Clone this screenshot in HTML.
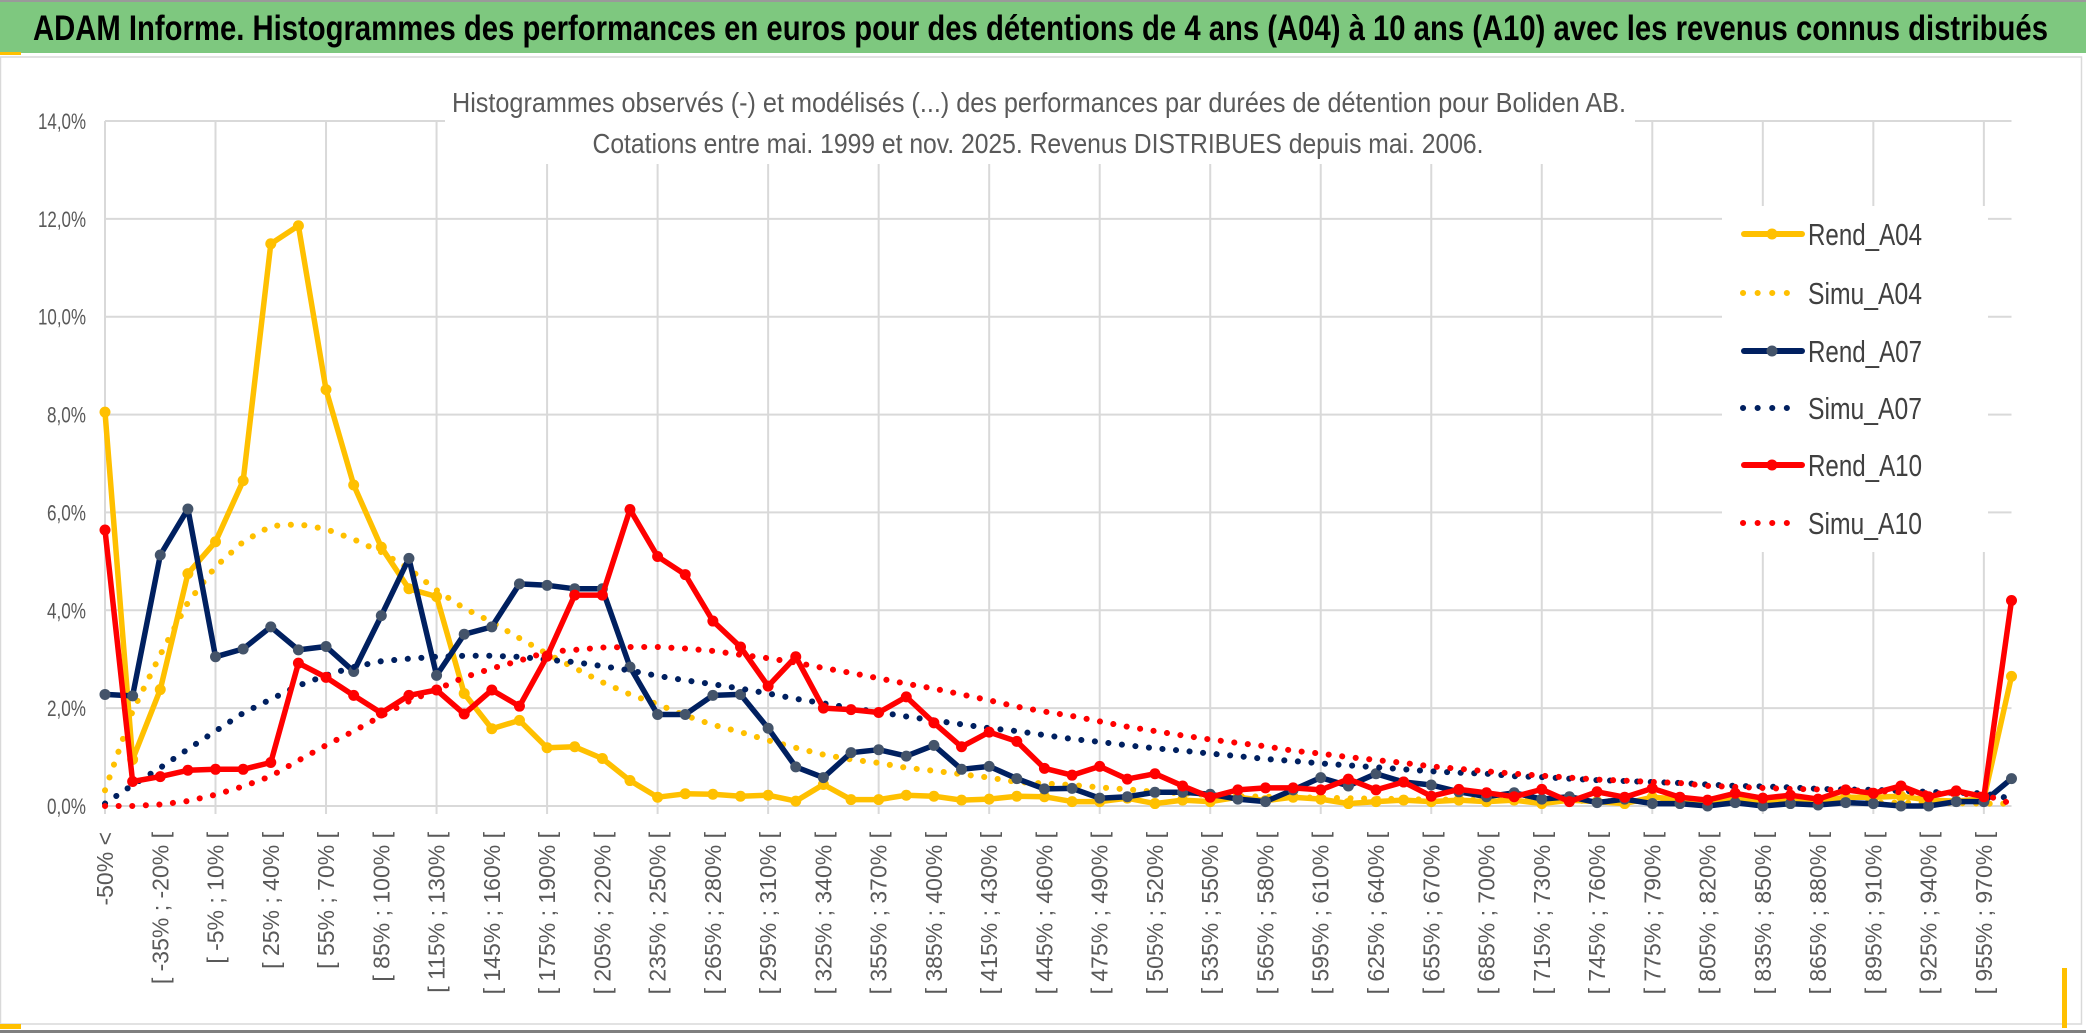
<!DOCTYPE html>
<html><head><meta charset="utf-8"><style>
html,body{margin:0;padding:0;background:#fff;}
svg{display:block;font-family:"Liberation Sans",sans-serif;}
</style></head><body>
<svg id="chart" width="2086" height="1033" viewBox="0 0 2086 1033" xmlns="http://www.w3.org/2000/svg">
<rect x="0" y="0" width="2086" height="1033" fill="#fff"/>
<rect x="0.5" y="57" width="2081" height="967" fill="none" stroke="#d9d9d9" stroke-width="1.5"/>
<rect x="0" y="1030" width="2086" height="3" fill="#7f7f7f"/>
<g>
<rect x="0" y="0" width="2086" height="2" fill="#9a9a9a"/>
<rect x="0" y="2" width="2086" height="51" fill="#7ec87f"/>
<rect x="0" y="52" width="21" height="3" fill="#ffc000"/>
<text x="33" y="40" font-size="35" font-weight="bold" fill="#000" textLength="2015" lengthAdjust="spacingAndGlyphs">ADAM Informe. Histogrammes des performances en euros pour des détentions de 4 ans (A04) à 10 ans (A10) avec les revenus connus distribués</text>
</g>
<rect x="0" y="1024" width="21" height="5" fill="#ffc000"/>
<rect x="2062" y="968" width="5" height="60" fill="#ffc000"/>
<g id="grid"></g>
<rect x="445" y="78" width="1190" height="86" fill="#fff"/>
<rect x="1722" y="206" width="266" height="346" fill="#fff"/>
<text x="1039" y="112" font-size="28" fill="#595959" text-anchor="middle" textLength="1174" lengthAdjust="spacingAndGlyphs">Histogrammes observés (-) et modélisés (...) des performances par durées de détention pour Boliden AB.</text>
<text x="1038" y="153" font-size="28" fill="#595959" text-anchor="middle" textLength="891" lengthAdjust="spacingAndGlyphs">Cotations entre mai. 1999 et nov. 2025. Revenus DISTRIBUES depuis mai. 2006.</text>
<g id="yaxis"></g>
<g id="xaxis"></g>
<g id="series"></g>
<g id="legend"></g>
</svg>
<script>
const categories = ["-50% <","[ -50% ; -35% [","[ -35% ; -20% [","[ -20% ; -5% [","[ -5% ; 10% [","[ 10% ; 25% [","[ 25% ; 40% [","[ 40% ; 55% [","[ 55% ; 70% [","[ 70% ; 85% [","[ 85% ; 100% [","[ 100% ; 115% [","[ 115% ; 130% [","[ 130% ; 145% [","[ 145% ; 160% [","[ 160% ; 175% [","[ 175% ; 190% [","[ 190% ; 205% [","[ 205% ; 220% [","[ 220% ; 235% [","[ 235% ; 250% [","[ 250% ; 265% [","[ 265% ; 280% [","[ 280% ; 295% [","[ 295% ; 310% [","[ 310% ; 325% [","[ 325% ; 340% [","[ 340% ; 355% [","[ 355% ; 370% [","[ 370% ; 385% [","[ 385% ; 400% [","[ 400% ; 415% [","[ 415% ; 430% [","[ 430% ; 445% [","[ 445% ; 460% [","[ 460% ; 475% [","[ 475% ; 490% [","[ 490% ; 505% [","[ 505% ; 520% [","[ 520% ; 535% [","[ 535% ; 550% [","[ 550% ; 565% [","[ 565% ; 580% [","[ 580% ; 595% [","[ 595% ; 610% [","[ 610% ; 625% [","[ 625% ; 640% [","[ 640% ; 655% [","[ 655% ; 670% [","[ 670% ; 685% [","[ 685% ; 700% [","[ 700% ; 715% [","[ 715% ; 730% [","[ 730% ; 745% [","[ 745% ; 760% [","[ 760% ; 775% [","[ 775% ; 790% [","[ 790% ; 805% [","[ 805% ; 820% [","[ 820% ; 835% [","[ 835% ; 850% [","[ 850% ; 865% [","[ 865% ; 880% [","[ 880% ; 895% [","[ 895% ; 910% [","[ 910% ; 925% [","[ 925% ; 940% [","[ 940% ; 955% [","[ 955% ; 970% [","> 970%"];
const rendA04 = [8.05,0.95,2.38,4.75,5.4,6.65,11.49,11.86,8.51,6.56,5.29,4.44,4.28,2.3,1.58,1.75,1.19,1.21,0.97,0.52,0.18,0.25,0.24,0.2,0.22,0.1,0.44,0.13,0.13,0.22,0.2,0.12,0.14,0.2,0.19,0.09,0.09,0.16,0.05,0.12,0.09,0.18,0.11,0.18,0.14,0.05,0.09,0.12,0.09,0.12,0.09,0.12,0.05,0.12,0.09,0.05,0.18,0.14,0.09,0.16,0.09,0.14,0.09,0.18,0.18,0.2,0.12,0.1,0.15,2.65];
const simuA04 = [0.32,1.94,3.09,4.16,4.89,5.4,5.72,5.76,5.66,5.45,5.19,4.85,4.41,4.04,3.76,3.43,3.11,2.82,2.53,2.28,2.08,1.85,1.66,1.51,1.34,1.19,1.05,0.95,0.88,0.78,0.72,0.65,0.58,0.49,0.46,0.43,0.38,0.34,0.29,0.26,0.22,0.2,0.19,0.18,0.17,0.16,0.15,0.14,0.13,0.13,0.12,0.12,0.11,0.11,0.1,0.1,0.1,0.09,0.09,0.09,0.08,0.08,0.08,0.07,0.07,0.07,0.06,0.06,0.05,0.05];
const rendA07 = [2.28,2.25,5.13,6.07,3.05,3.21,3.66,3.19,3.26,2.75,3.89,5.06,2.67,3.51,3.66,4.54,4.51,4.44,4.44,2.84,1.87,1.87,2.26,2.28,1.59,0.8,0.58,1.09,1.15,1.02,1.24,0.75,0.81,0.56,0.35,0.36,0.16,0.19,0.28,0.28,0.24,0.14,0.09,0.33,0.58,0.41,0.66,0.49,0.43,0.29,0.19,0.27,0.14,0.19,0.07,0.14,0.05,0.05,0.0,0.07,0.0,0.05,0.02,0.07,0.05,0.0,0.0,0.09,0.09,0.56];
const simuA07 = [0.05,0.43,0.78,1.16,1.53,1.9,2.18,2.46,2.67,2.84,2.96,3.01,3.05,3.07,3.07,3.05,2.99,2.94,2.86,2.77,2.66,2.57,2.49,2.4,2.3,2.19,2.1,2.0,1.92,1.83,1.75,1.67,1.59,1.53,1.45,1.37,1.31,1.24,1.18,1.13,1.07,1.02,0.96,0.92,0.87,0.83,0.79,0.75,0.71,0.68,0.66,0.61,0.59,0.56,0.53,0.51,0.49,0.47,0.44,0.41,0.4,0.38,0.35,0.34,0.33,0.31,0.29,0.27,0.26,0.15];
const rendA10 = [5.64,0.5,0.6,0.73,0.75,0.75,0.89,2.92,2.63,2.26,1.9,2.26,2.37,1.88,2.37,2.04,3.06,4.31,4.31,6.06,5.1,4.73,3.78,3.25,2.45,3.05,2.0,1.97,1.91,2.23,1.7,1.21,1.51,1.32,0.77,0.63,0.81,0.55,0.66,0.41,0.18,0.33,0.37,0.37,0.33,0.55,0.33,0.49,0.2,0.34,0.27,0.19,0.34,0.09,0.29,0.18,0.36,0.18,0.12,0.26,0.16,0.22,0.14,0.33,0.26,0.41,0.19,0.31,0.19,4.2];
const simuA10 = [0,0,0.03,0.1,0.23,0.4,0.61,0.93,1.24,1.53,1.84,2.14,2.38,2.63,2.81,2.97,3.15,3.19,3.24,3.25,3.25,3.22,3.17,3.09,3.02,2.93,2.82,2.72,2.61,2.5,2.4,2.28,2.16,2.03,1.93,1.84,1.73,1.62,1.53,1.44,1.36,1.29,1.22,1.13,1.07,1.0,0.94,0.88,0.81,0.76,0.71,0.66,0.62,0.58,0.54,0.52,0.49,0.47,0.41,0.39,0.37,0.35,0.34,0.32,0.31,0.28,0.26,0.25,0.23,0.05];
const yTicks = [0,2,4,6,8,10,12,14];
const yTickLabels = ["0,0%","2,0%","4,0%","6,0%","8,0%","10,0%","12,0%","14,0%"];
const seriesNames = ["Rend_A04","Simu_A04","Rend_A07","Simu_A07","Rend_A10","Simu_A10"];

const NS = "http://www.w3.org/2000/svg";
const X0 = 105, X1 = 2011.5, Y0 = 806, Y1 = 121, YMAX = 14;
const n = categories.length;
function xPos(i){ return X0 + i * (X1 - X0) / (n - 1); }
function yPos(v){ return Y0 - v * (Y0 - Y1) / YMAX; }
function mk(tag, attrs, parent){
  const e = document.createElementNS(NS, tag);
  for (const k in attrs) e.setAttribute(k, attrs[k]);
  parent.appendChild(e);
  return e;
}
const grid = document.getElementById('grid');
for (let t = 0; t < yTicks.length; t++){
  const l = mk('line', {x1: X0, x2: X1, y1: yPos(yTicks[t]), y2: yPos(yTicks[t]), stroke: '#d9d9d9', 'stroke-width': 2}, grid);
  
  
}
for (let i = 0; i < n; i += 4){
  const l = mk('line', {x1: xPos(i), x2: xPos(i), y1: Y1, y2: Y0 + 8, stroke: '#d9d9d9', 'stroke-width': 2}, grid);
  
  
}
const yaxis = document.getElementById('yaxis');
for (let t = 0; t < yTicks.length; t++){
  const lbl = yTickLabels[t];
  const tx = mk('text', {x: 86, y: yPos(yTicks[t]) + 8, 'font-size': 22, fill: '#595959', 'text-anchor': 'end', textLength: lbl.length > 4 ? 48 : 39, lengthAdjust: 'spacingAndGlyphs'}, yaxis);
  tx.textContent = lbl;
  
  
}
const xaxis = document.getElementById('xaxis');
for (let i = 0; i < n; i += 2){
  const x = xPos(i) + 8, y = 832;
  const tx = mk('text', {x: x, y: y, 'font-size': 23, fill: '#595959', 'text-anchor': 'end', transform: 'rotate(-90 ' + x + ' ' + y + ')'}, xaxis);
  tx.textContent = categories[i];
  
  
}
const series = document.getElementById('series');
function pts(arr){ return arr.map((v, i) => xPos(i).toFixed(1) + ',' + yPos(v).toFixed(1)).join(' '); }
function drawRend(arr, color, mcolor, name){
  const g = mk('g', {}, series);
  
  
  mk('polyline', {points: pts(arr), fill: 'none', stroke: color, 'stroke-width': 5.5, 'stroke-linejoin': 'round', 'stroke-linecap': 'round'}, g);
  for (let i = 0; i < arr.length; i++){
    const c = mk('circle', {cx: xPos(i), cy: yPos(arr[i]), r: 5.5, fill: mcolor}, g);
    
    
  }
}
function drawSimu(arr, color, name){
  const p = mk('polyline', {points: pts(arr), fill: 'none', stroke: color, 'stroke-width': 6, 'stroke-linecap': 'round', 'stroke-linejoin': 'round', 'stroke-dasharray': '0.1 13.5'}, series);
  
  
}
drawRend(rendA04, '#ffc000', '#ffc000', 'line-rend-a04');
drawSimu(simuA04, '#ffc000', 'line-simu-a04');
drawRend(rendA07, '#002060', '#44546a', 'line-rend-a07');
drawSimu(simuA07, '#002060', 'line-simu-a07');
drawRend(rendA10, '#ff0000', '#ff0000', 'line-rend-a10');
drawSimu(simuA10, '#ff0000', 'line-simu-a10');

const legend = document.getElementById('legend');
const legColors = ['#ffc000','#ffc000','#002060','#002060','#ff0000','#ff0000'];
const legMarker = ['#ffc000',null,'#44546a',null,'#ff0000',null];
const legY = [234, 293, 351, 408, 465, 523];
for (let k = 0; k < seriesNames.length; k++){
  const g = mk('g', {}, legend);
  
  
  const y = legY[k];
  if (legMarker[k]){
    mk('line', {x1: 1744, x2: 1802, y1: y, y2: y, stroke: legColors[k], 'stroke-width': 6, 'stroke-linecap': 'round'}, g);
    mk('circle', {cx: 1772, cy: y, r: 5.5, fill: legMarker[k]}, g);
  } else {
    mk('line', {x1: 1743, x2: 1800, y1: y, y2: y, stroke: legColors[k], 'stroke-width': 6, 'stroke-linecap': 'round', 'stroke-dasharray': '0.1 14.5'}, g);
  }
  const t = mk('text', {x: 1808, y: y + 11, 'font-size': 31, fill: '#404040', textLength: 114, lengthAdjust: 'spacingAndGlyphs'}, g);
  t.textContent = seriesNames[k];
}
</script>
</body></html>
